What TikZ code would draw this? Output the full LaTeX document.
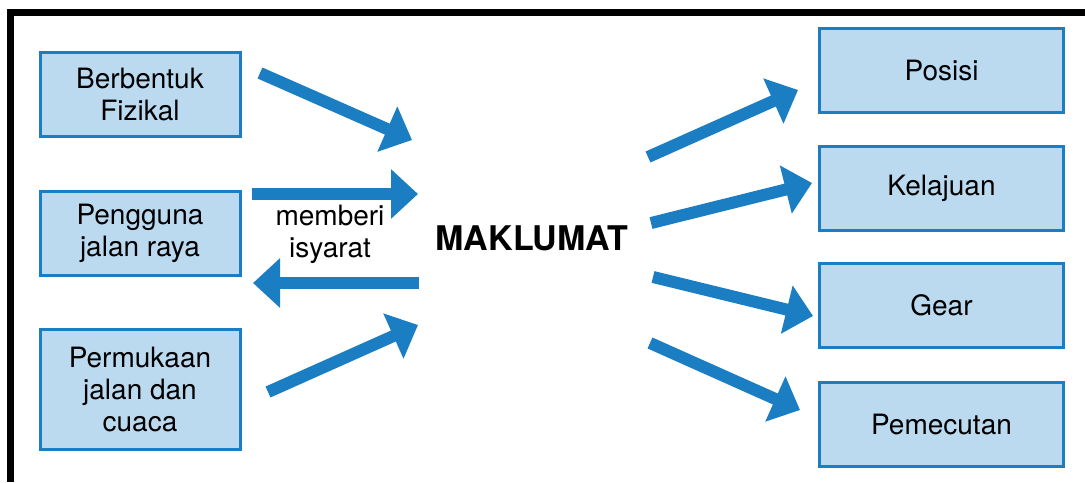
\documentclass[tikz,border=0pt]{standalone}
\usepackage{fontspec}
\setmainfont{TeX Gyre Heros}
\usepackage{tikz}
\usetikzlibrary{positioning,arrows.meta}
\definecolor{mblue}{RGB}{27,125,194}
\definecolor{mfill}{RGB}{187,218,240}
\tikzset{
  kotak/.style={draw=mblue,line width=1.5pt,fill=mfill,align=center,minimum width=100pt,minimum height=42pt,inner sep=2pt,font=\fontsize{14}{16}\selectfont},
  kotakk/.style={kotak,minimum width=122pt},
  anak/.style={line width=6pt,draw=mblue,-{Triangle[length=13.5pt,width=24pt]}},
}
\begin{document}
\begin{tikzpicture}[x=0.5pt,y=-0.5pt]
  \useasboundingbox (0,0) rectangle (1085,482);
  \draw[line width=3.5pt] (1085,12) -- (10,12) -- (10,482);
  % left column
  \node[kotak] (fizikal) at (140,94.5) {Berbentuk\\Fizikal};
  \node[kotak,below=26pt of fizikal] (pengguna) {Pengguna\\jalan raya};
  \node[kotak,minimum height=60pt,below=25.5pt of pengguna] (permukaan) {Permukaan\\jalan dan\\cuaca};
  % centre
  \node[font=\fontsize{17}{20}\selectfont\bfseries] (maklumat) at (532,238) {MAKLUMAT};
  \node[align=center,font=\fontsize{14}{16}\selectfont] (isyarat) at (330,234) {memberi\\isyarat};
  % right column
  \node[kotakk] (posisi) at (941.5,70.5) {Posisi};
  \node[kotakk,below=15.5pt of posisi] (kelajuan) {Kelajuan};
  \node[kotakk,below=15pt of kelajuan] (gear) {Gear};
  \node[kotakk,below=16pt of gear] (pemecutan) {Pemecutan};
  % arrow ends
  \coordinate (a1) at (260,73);  \coordinate (b1) at (412,140);
  \coordinate (a2) at (252,194); \coordinate (b2) at (418,194);
  \coordinate (a3) at (419,283); \coordinate (b3) at (253,283);
  \coordinate (a4) at (268,392); \coordinate (b4) at (418,325);
  \coordinate (c1) at (648,157); \coordinate (d1) at (798,90);
  \coordinate (c2) at (651,223); \coordinate (d2) at (812,183);
  \coordinate (c3) at (653,277); \coordinate (d3) at (813,316);
  \coordinate (c4) at (650,343); \coordinate (d4) at (800,410);
  \draw[anak] (a1) -- (b1);
  \draw[anak] (a2) -- (b2);
  \draw[anak] (a3) -- (b3);
  \draw[anak] (a4) -- (b4);
  \draw[anak] (c1) -- (d1);
  \draw[anak] (c2) -- (d2);
  \draw[anak] (c3) -- (d3);
  \draw[anak] (c4) -- (d4);
\end{tikzpicture}
\end{document}
